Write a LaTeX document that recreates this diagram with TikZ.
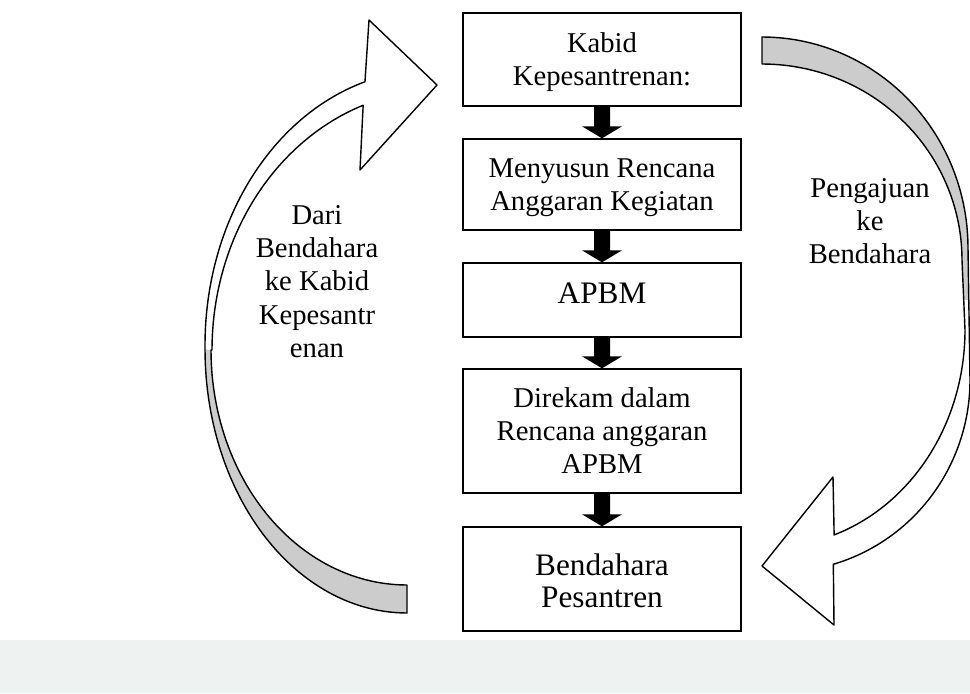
\documentclass[tikz,border=0pt]{standalone}
\usepackage{fontspec}
\setmainfont{Liberation Serif}
\usetikzlibrary{calc}
\definecolor{ribbongray}{RGB}{204,204,204}
\definecolor{wmtint}{RGB}{238,243,241}
\newcommand{\bdarrow}[2]{%
  \fill ($(#1.south)+(-8,0)$) -- ($(#2.north)+(-8,-12)$) -- ($(#2.north)+(-20,-12)$) -- (#2.north)
    -- ($(#2.north)+(20,-12)$) -- ($(#2.north)+(8,-12)$) -- ($(#1.south)+(8,0)$) -- cycle;}
\begin{document}
\begin{tikzpicture}[x=0.02cm, y=-0.02cm,
  box/.style={draw, line width=0.8pt, fill=white, minimum width=5.56cm, inner sep=0pt},
  txt/.style={inner sep=0pt, align=center, font=\fontsize{16.3pt}{19pt}\selectfont},
  bigtxt/.style={inner sep=0pt, align=center, font=\fontsize{17.8pt}{18.4pt}\selectfont},
  ribbon/.style={line width=0.8pt, line join=round}]
\useasboundingbox (0,0) rectangle (970,693);
\fill[wmtint] (0,640) rectangle (970,693);

% boxes
\node[box, minimum height=1.86cm] (b1) at (602,59.5) {};
\node[box, minimum height=1.82cm] (b2) at (602,184.5) {};
\node[box, minimum height=1.48cm] (b3) at (602,300) {};
\node[box, minimum height=2.48cm] (b4) at (602,431) {};
\node[box, minimum height=2.08cm] (b5) at (602,579) {};

\node[txt, anchor=north] (t1) at (602,28.3) {\strut Kabid\\Kepesantrenan:};
\node[txt, anchor=north] (t2) at (602,153.5) {\strut Menyusun Rencana\\Anggaran Kegiatan};
\node[bigtxt, anchor=north] (t3) at (602,280.3) {\strut APBM};
\node[txt, anchor=north] (t4) at (602,383.5) {\strut Direkam dalam\\Rencana anggaran\\APBM};
\node[bigtxt, anchor=north] (t5) at (602,552.3) {\strut Bendahara\\Pesantren};

% block arrows
\bdarrow{b1}{b2}
\bdarrow{b2}{b3}
\bdarrow{b3}{b4}
\bdarrow{b4}{b5}

% left curved arrow (Bendahara -> Kabid)
\fill[ribbongray] plot[domain=0:90,samples=60] ({407-202*cos(\x)},{349+264*sin(\x)})
  -- plot[domain=90:0,samples=60] ({407-196*cos(\x)},{350+235*sin(\x)}) -- cycle;
\fill[white] plot[domain=73.2:0,samples=60] ({430-225*cos(\x)},{345-275*sin(\x)})
  -- (205,349) -- (211,350)
  -- plot[domain=0:70.3,samples=60] ({440-228*cos(\x)},{350-260*sin(\x)})
  -- (360,170) -- (437,85) -- (369,20) -- cycle;
\draw[ribbon] (407,585) -- (407,613)
  -- plot[domain=90:0,samples=60] ({407-202*cos(\x)},{349+264*sin(\x)})
  -- plot[domain=0:73.2,samples=60] ({430-225*cos(\x)},{345-275*sin(\x)})
  -- (369,20) -- (437,85) -- (360,170)
  -- plot[domain=70.3:0,samples=60] ({440-228*cos(\x)},{350-260*sin(\x)})
  -- plot[domain=0:90,samples=60] ({407-196*cos(\x)},{350+235*sin(\x)}) -- cycle;

% right curved arrow (Kabid -> Bendahara)
\fill[ribbongray] plot[domain=0:90,samples=60] ({762+206*sin(\x)},{248-211*cos(\x)})
  -- (968.5,300) -- (963.4,300)
  -- plot[domain=90:0,samples=60] ({762+200*sin(\x)},{260-196*cos(\x)}) -- cycle;
\fill[white] (968.5,300) -- (970,380)
  -- plot[domain=0:73.7,samples=60] ({780+190*cos(\x)},{380+192*sin(\x)})
  -- (834,625) -- (762,566) -- (833,477)
  -- plot[domain=70.8:0,samples=60] ({770+195*cos(\x)},{330+217*sin(\x)})
  -- (963.4,300) -- cycle;
\draw[ribbon] (762,64) -- (762,37)
  -- plot[domain=0:90,samples=60] ({762+206*sin(\x)},{248-211*cos(\x)})
  -- plot[domain=0:73.7,samples=60] ({780+190*cos(\x)},{380+192*sin(\x)})
  -- (834,625) -- (762,566) -- (833,477)
  -- plot[domain=70.8:0,samples=60] ({770+195*cos(\x)},{330+217*sin(\x)})
  -- plot[domain=90:0,samples=60] ({762+200*sin(\x)},{260-196*cos(\x)}) -- cycle;

% side labels
\node[txt, anchor=north] (lbl) at (317,200.5) {\strut Dari\\Bendahara\\ke Kabid\\Kepesantr\\enan};
\node[txt, anchor=north] (lbr) at (870,173.3) {\strut Pengajuan\\ke\\Bendahara};
\end{tikzpicture}
\end{document}
